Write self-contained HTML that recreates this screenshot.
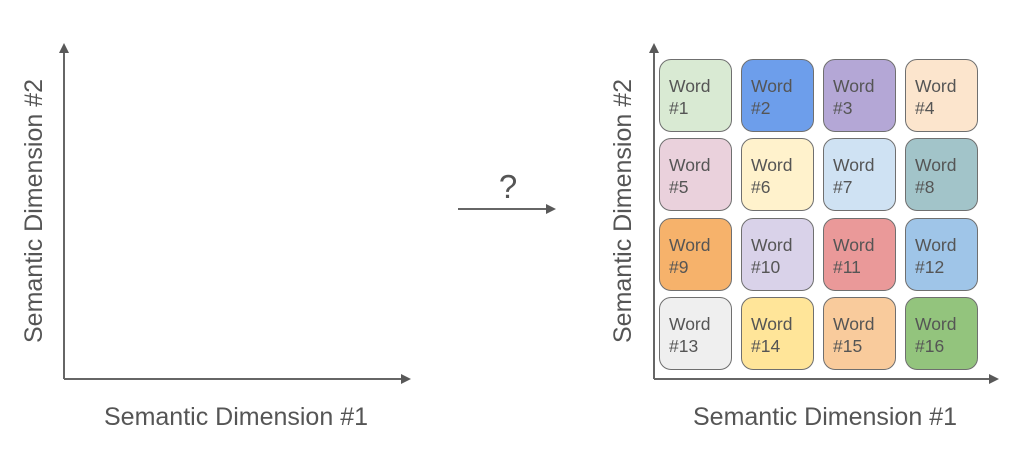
<!DOCTYPE html>
<html><head><style>
body{margin:0;width:1023px;height:454px;background:#fff;position:relative;overflow:hidden;font-family:"Liberation Sans",sans-serif;color:#555}
.b{position:absolute;width:73px;height:73px;border:1.5px solid #6f6f6f;border-radius:12px;box-sizing:border-box;font-size:17.5px;line-height:22px;padding:15px 0 0 9px;color:#555}
</style></head><body>
<svg width="1023" height="454" style="position:absolute;left:0;top:0">
<defs><marker id="a" markerWidth="10" markerHeight="10" refX="5" refY="5" orient="auto" markerUnits="userSpaceOnUse"><path d="M0,0 L10,5 L0,10 z" fill="#595959"/></marker></defs>
<g stroke="#666" stroke-width="2" fill="none">
<line x1="64" y1="379" x2="64" y2="48" marker-end="url(#a)"/>
<line x1="64" y1="379" x2="406" y2="379" marker-end="url(#a)"/>
<line x1="654" y1="379" x2="654" y2="48" marker-end="url(#a)"/>
<line x1="654" y1="379" x2="994" y2="379" marker-end="url(#a)"/>
<line x1="458" y1="209" x2="551" y2="209" marker-end="url(#a)"/>
</g>
<text x="508" y="198" font-size="33" fill="#555" text-anchor="middle" font-family="Liberation Sans">?</text>
<text x="236" y="425" font-size="25" fill="#555" text-anchor="middle" font-family="Liberation Sans">Semantic Dimension #1</text>
<text x="825" y="425" font-size="25" fill="#555" text-anchor="middle" font-family="Liberation Sans">Semantic Dimension #1</text>
<text transform="translate(42,211) rotate(-90)" font-size="25" fill="#555" text-anchor="middle" font-family="Liberation Sans">Semantic Dimension #2</text>
<text transform="translate(631,211) rotate(-90)" font-size="25" fill="#555" text-anchor="middle" font-family="Liberation Sans">Semantic Dimension #2</text>
</svg>
<div class="b" style="left:659px;top:59px;background:#d9ead3">Word<br>#1</div>
<div class="b" style="left:741px;top:59px;background:#6d9eeb">Word<br>#2</div>
<div class="b" style="left:823px;top:59px;background:#b4a7d6">Word<br>#3</div>
<div class="b" style="left:905px;top:59px;background:#fce5cd">Word<br>#4</div>
<div class="b" style="left:659px;top:138px;background:#ead1dc">Word<br>#5</div>
<div class="b" style="left:741px;top:138px;background:#fff2cc">Word<br>#6</div>
<div class="b" style="left:823px;top:138px;background:#cfe2f3">Word<br>#7</div>
<div class="b" style="left:905px;top:138px;background:#a2c4c9">Word<br>#8</div>
<div class="b" style="left:659px;top:218px;background:#f6b26b">Word<br>#9</div>
<div class="b" style="left:741px;top:218px;background:#d9d2e9">Word<br>#10</div>
<div class="b" style="left:823px;top:218px;background:#ea9999">Word<br>#11</div>
<div class="b" style="left:905px;top:218px;background:#9fc5e8">Word<br>#12</div>
<div class="b" style="left:659px;top:297px;background:#efefef">Word<br>#13</div>
<div class="b" style="left:741px;top:297px;background:#ffe599">Word<br>#14</div>
<div class="b" style="left:823px;top:297px;background:#f9cb9c">Word<br>#15</div>
<div class="b" style="left:905px;top:297px;background:#93c47d">Word<br>#16</div>
</body></html>
